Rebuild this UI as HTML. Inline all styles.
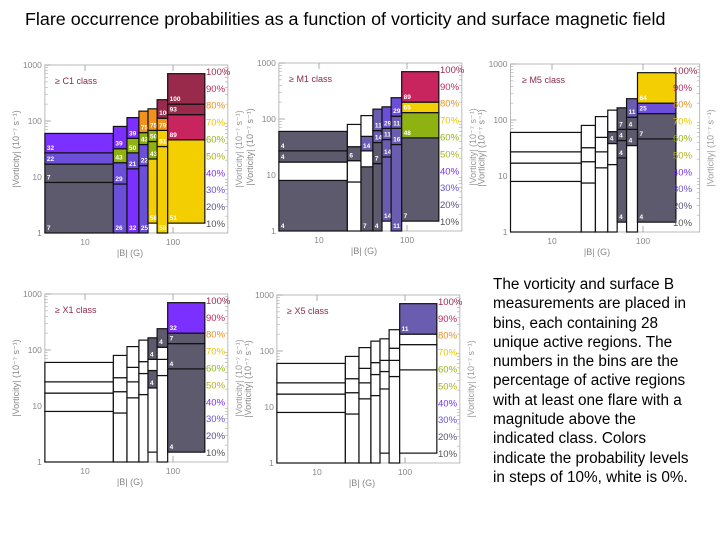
<!DOCTYPE html>
<html><head><meta charset="utf-8">
<style>
html,body{margin:0;padding:0;background:#fff;}
#wrap{position:relative;width:720px;height:540px;overflow:hidden;font-family:"Liberation Sans",sans-serif;}
#title{position:absolute;left:25px;top:9px;font-size:17.9px;color:#000;white-space:nowrap;}
#desc{position:absolute;left:493px;top:275px;font-size:15.3px;line-height:19.3px;color:#000;white-space:nowrap;}
svg{position:absolute;left:0;top:0;}
</style></head>
<body>
<div id="wrap">
<div id="title">Flare occurrence probabilities as a function of vorticity and surface magnetic field</div>
<svg id="chart" width="720" height="540"></svg>
<div id="desc">The vorticity and surface B<br>measurements are placed in<br>bins, each containing 28<br>unique active regions. The<br>numbers in the bins are the<br>percentage of active regions<br>with at least one flare with a<br>magnitude above the<br>indicated class. Colors<br>indicate the probability levels<br>in steps of 10%, white is 0%.</div>
</div>
<script>
// bin columns (|B| in G) and vorticity edges per column
const binB = [[3.5,21],[21,30],[30,41],[41,52],[52,66],[66,87],[87,230]];
const binY = [[1,8,17,27,60],[1,7.5,18,32,80],[1,14,27,49,115],[1,16,38,62,150],[1.5,21,43,68,165],[1,35,68,112,240],[1.5,46,130,200,700]];
// percentages per panel, per column, per cell (0 = white)
const valsC1 = [[7,7,22,32],[26,29,43,39],[32,21,50,39],[25,22,43,75],[58,43,50,75],[58,51,79,100],[51,89,93,100]];
const valsM1 = [[4,0,4,4],[0,0,6,0],[7,0,14,0],[4,7,14,11],[14,14,11,29],[11,16,11,29],[7,48,65,89]];
const valsM5 = [[0,0,0,0],[0,0,0,0],[0,0,0,0],[0,0,4,0],[4,4,4,7],[0,4,4,11],[4,7,25,64]];
const valsX1 = [[0,0,0,0],[0,0,0,0],[0,0,0,0],[0,0,0,0],[0,4,0,4],[0,0,0,4],[4,4,7,32]];
const valsX5 = [[0,0,0,0],[0,0,0,0],[0,0,0,0],[0,0,0,0],[0,0,0,0],[0,0,0,0],[0,0,0,11]];
const yTicks = [1,10,100,1000];
const xTicks = [10,100];
const pctLabels = ["10%","20%","30%","40%","50%","60%","70%","80%","90%","100%"];
const pctColors = ["#555","#5a5080","#6a50d0","#7a2cff","#b0b020","#8fb515","#e8c800","#e8901a","#c02860","#9b2a4e"];

const NS="http://www.w3.org/2000/svg";
const svg=document.getElementById('chart');
function mk(tag,attrs,parent){const e=document.createElementNS(NS,tag);for(const k in attrs)e.setAttribute(k,attrs[k]);(parent||svg).appendChild(e);return e;}
function colorFor(v){
  if(v<=0)return "#ffffff";
  if(v<=10)return "#5e5a6e";
  if(v<=20)return "#6a5cae";
  if(v<=30)return "#6b4fd8";
  if(v<=40)return "#7b30ff";
  if(v<=50)return "#8db212";
  if(v<=70)return "#f3ce00";
  if(v<=80)return "#f0921c";
  if(v<=90)return "#c8245e";
  return "#9a2a4c";
}
function panel(cfg){
  const g=mk('g',{});
  
  
  const dx=cfg.dx||88, dy=56;
  const xs=b=>cfg.x10+dx*(Math.log10(b)-1);
  const ys=v=>cfg.y1-dy*Math.log10(v);
  const L=xs(3.5), R=xs(420), T=ys(1000), B=ys(1);
  const frame=mk('rect',{x:L,y:T,width:R-L,height:B-T,fill:'none',stroke:'#aaa','stroke-width':0.8},g);
  
  
  for(let d=0;d<3;d++)for(let m=2;m<10;m++){
    const y=ys(m*Math.pow(10,d));
    mk('line',{x1:L,x2:L+3,y1:y,y2:y,stroke:'#aaa','stroke-width':0.6},g);
    mk('line',{x1:R,x2:R-3,y1:y,y2:y,stroke:'#aaa','stroke-width':0.6},g);
  }
  yTicks.forEach(t=>{
    const y=ys(t);
    mk('line',{x1:L,x2:L+6,y1:y,y2:y,stroke:'#999','stroke-width':0.8},g);
    const tx=mk('text',{x:L-3,y:y+3,'font-size':8.5,fill:'#888','text-anchor':'end'},g);
    tx.textContent=String(t);
    
    
  });
  xTicks.forEach(t=>{
    const x=xs(t);
    mk('line',{x1:x,x2:x,y1:B,y2:B-6,stroke:'#999','stroke-width':0.8},g);
    mk('line',{x1:x,x2:x,y1:T,y2:T+6,stroke:'#999','stroke-width':0.8},g);
    const tx=mk('text',{x:x,y:B+12,'font-size':8.5,fill:'#888','text-anchor':'middle'},g);
    tx.textContent=String(t);
    
    
  });
  binB.forEach((bb,ci)=>{
    const edges=binY[ci];
    const x0=xs(bb[0]), x1=xs(bb[1]);
    for(let k=0;k<edges.length-1;k++){
      const v=cfg.vals[ci][k];
      const yt=ys(edges[k+1]), yb=ys(edges[k]);
      const r=mk('rect',{x:x0,y:yt,width:x1-x0,height:yb-yt,fill:colorFor(v),stroke:'#111','stroke-width':1.2},g);
      
      
      if(v>0){
        const t=mk('text',{x:x0+2,y:yb-3,'font-size':6.5,fill:'#fff','font-weight':'bold'},g);
        t.textContent=String(v);
        
        
      }
    }
  });
  pctLabels.forEach((p,i)=>{
    const t=mk('text',{x:cfg.x10+121,y:cfg.y1-6-i*16.9,'font-size':9.5,fill:pctColors[i]},g);
    t.textContent=p;
    
    
  });
  const cl=mk('text',{x:cfg.x10-30,y:cfg.y1-149,'font-size':9,fill:'#8b2a4a'},g);
  cl.textContent='\u2265 '+cfg.id+' class';
  
  
  const xt=mk('text',{x:cfg.x10+45,y:B+23,'font-size':9,fill:'#888','text-anchor':'middle'},g);
  xt.textContent='|B|  (G)';
  
  
  const yc=cfg.y1-84;
  const yt=mk('text',{x:L-26,y:yc,'font-size':9,fill:'#888','text-anchor':'middle',transform:`rotate(-90 ${L-26} ${yc})`},g);
  yt.textContent='|Vorticity|  (10\u207B\u2077 s\u207B\u00B9)';
  
  
  const yr=mk('text',{x:R+14,y:yc,'font-size':9,fill:'#999','text-anchor':'middle',transform:`rotate(-90 ${R+14} ${yc})`},g);
  yr.textContent='|Vorticity|  (10\u207B\u2077 s\u207B\u00B9)';
  
  
}
panel({id:'C1',x10:85,y1:233,vals:valsC1});
panel({id:'M1',x10:319,y1:231,vals:valsM1});
panel({id:'M5',x10:552,y1:232,dx:91,vals:valsM5});
panel({id:'X1',x10:85,y1:462,vals:valsX1});
panel({id:'X5',x10:317,y1:463,vals:valsX5});
</script>
</body></html>
